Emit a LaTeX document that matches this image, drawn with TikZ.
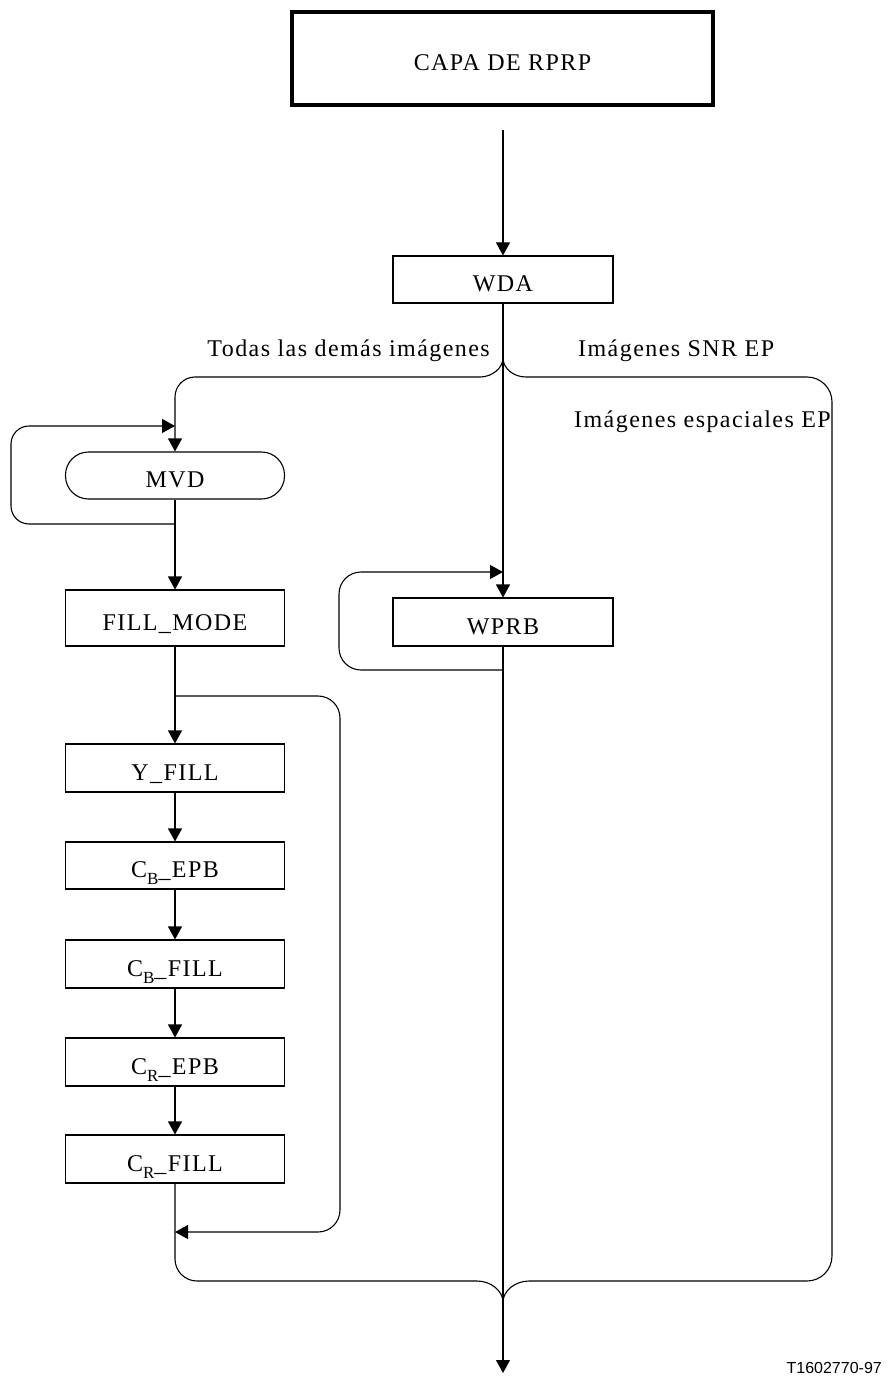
\documentclass[tikz,border=0pt]{standalone}
\usepackage{fontspec}
\setmainfont{Liberation Serif}[LetterSpace=6]
\newfontfamily\codefont{Liberation Sans}
\usetikzlibrary{arrows.meta}
\newcommand{\sbs}[1]{\raisebox{-7pt}{\fontsize{17}{17}\selectfont #1}}
\begin{document}
\begin{tikzpicture}[x=1pt,y=-1pt,
  every node/.style={font=\fontsize{24}{28}\selectfont},
  line/.style={line width=1.1pt},
  arr/.style={line width=1.1pt,-{Triangle[length=13pt,width=14pt]}},
  box/.style={draw,line width=1.1pt,inner sep=0pt,minimum width=219pt,text height=26pt,text depth=2pt},
  lbl/.style={inner sep=0pt}]
\useasboundingbox (0,0) rectangle (887,1380);
% nodes
\node[draw,line width=4pt,inner sep=0pt,minimum width=421pt,minimum height=93pt,text height=26pt,text depth=2pt] (capa) at (502.5,58.5) {CAPA DE RPRP};
\node[box,minimum width=220pt,minimum height=47pt] (wda) at (503,279.5) {WDA};
\node[box,minimum height=47pt,rounded corners=23pt] (mvd) at (175,475.5) {MVD};
\node[box,minimum height=56pt] (fill) at (175,618) {FILL\_MODE};
\node[box,minimum height=48pt] (yfill) at (175,768) {Y\_FILL};
\node[box,minimum height=47pt] (cbepb) at (175,865.5) {C\sbs{B}\_EPB};
\node[box,minimum height=48pt] (cbfill) at (175,964) {C\sbs{B}\_FILL};
\node[box,minimum height=48pt] (crepb) at (175,1062) {C\sbs{R}\_EPB};
\node[box,minimum height=48pt] (crfill) at (175,1159) {C\sbs{R}\_FILL};
\node[box,minimum width=220pt,minimum height=48pt] (wprb) at (503,622) {WPRB};
% labels
\node[lbl,anchor=base east] (lall) at (490,356) {Todas las demás imágenes};
\node[lbl,anchor=base west] (lsnr) at (578,356) {Imágenes SNR EP};
\node[lbl,anchor=base west] (lsp) at (574,427) {Imágenes espaciales EP};
\node[lbl,anchor=base east,font=\codefont\fontsize{16}{18}\selectfont] (code) at (882,1373) {T1602770-97};
% coordinates
\coordinate (top) at (503,130);
\coordinate (split) at (503,358);
\coordinate (lh) at (480,377);
\coordinate (lc) at (175,377);
\coordinate (rh) at (526,377);
\coordinate (rc) at (832,377);
\coordinate (rd) at (832,1281);
\coordinate (rb) at (529,1281);
\coordinate (lb) at (477,1281);
\coordinate (ld) at (175,1281);
\coordinate (merge) at (503,1302);
\coordinate (out) at (503,1373);
\coordinate (m1) at (175,524);
\coordinate (m2) at (11,524);
\coordinate (m3) at (11,426);
\coordinate (m4) at (175,426);
\coordinate (f1) at (175,696);
\coordinate (f2) at (340,696);
\coordinate (f3) at (340,1232);
\coordinate (f4) at (175,1232);
\coordinate (w1) at (503,670);
\coordinate (w2) at (339,670);
\coordinate (w3) at (339,572);
\coordinate (w4) at (503,572);
% connectors
\draw[arr] (top) -- (wda.north);
\draw[arr] (wda.south) -- (wprb.north);
\draw[arr] (wprb.south) -- (out);
\draw[line] (split) .. controls +(0,10) and +(12,0) .. (lh);
\draw[arr,rounded corners=20pt] (lh) -- (lc) -- (mvd.north);
\draw[line] (split) .. controls +(0,10) and +(-13,0) .. (rh);
\draw[line,rounded corners=25pt] (rh) -- (rc) -- (rd) -- (rb);
\draw[line] (rb) .. controls +(-14,0) and +(0,-11) .. (merge);
\draw[line,rounded corners=22pt] (crfill.south) -- (ld) -- (lb);
\draw[line] (lb) .. controls +(14,0) and +(0,-11) .. (merge);
\draw[arr,rounded corners=18pt] (m1) -- (m2) -- (m3) -- (m4);
\draw[arr] (mvd.south) -- (fill.north);
\draw[arr] (fill.south) -- (yfill.north);
\draw[arr,rounded corners=22pt] (f1) -- (f2) -- (f3) -- (f4);
\draw[arr] (yfill.south) -- (cbepb.north);
\draw[arr] (cbepb.south) -- (cbfill.north);
\draw[arr] (cbfill.south) -- (crepb.north);
\draw[arr] (crepb.south) -- (crfill.north);
\draw[arr,rounded corners=22pt] (w1) -- (w2) -- (w3) -- (w4);
\end{tikzpicture}
\end{document}
